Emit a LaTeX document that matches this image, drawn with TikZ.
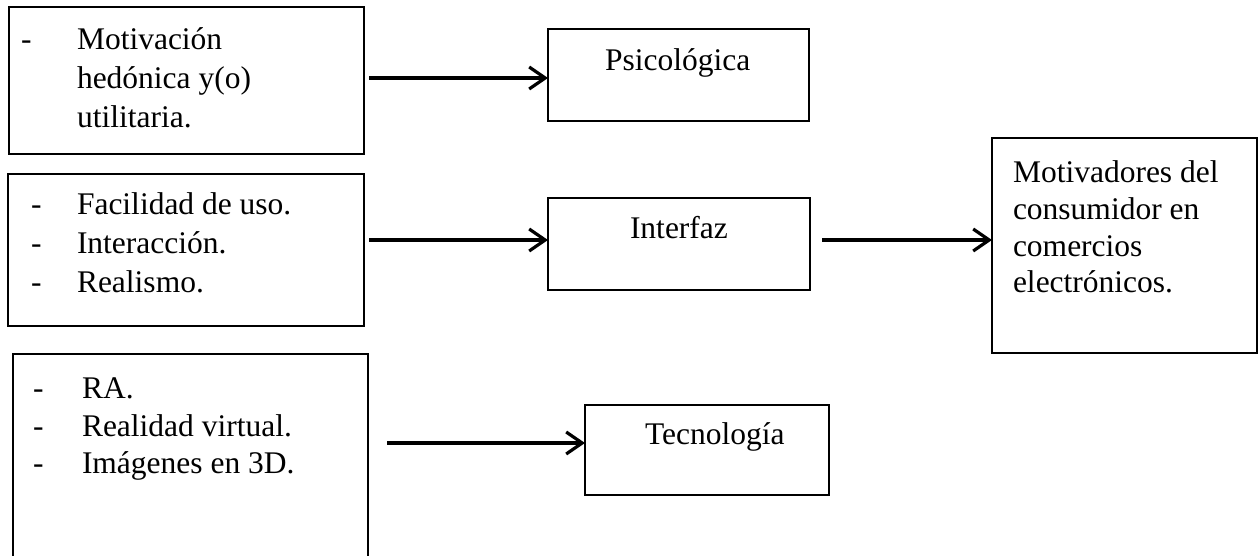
\documentclass[tikz,border=0pt]{standalone}
\usepackage{fontspec}
\setmainfont{Liberation Serif}
\usetikzlibrary{arrows.meta}
\begin{document}
\begin{tikzpicture}[x=1pt,y=-1pt,
  box/.style={draw, line width=2pt, inner sep=0pt, outer sep=0pt},
  txt/.style={anchor=base west, inner sep=0pt, outer sep=0pt, font=\fontsize{31.5}{38}\selectfont},
  arr/.style={line width=3.2pt, -{Straight Barb[length=16pt,width=22pt,line width=3.2pt]}}]
\useasboundingbox (0,0) rectangle (1259,555);
\clip (0,0) rectangle (1259,555);
% boxes
\node[box, minimum width=355pt, minimum height=147pt] (b1) at (186.5,80.5) {};
\node[box, minimum width=356pt, minimum height=152pt] (b2) at (186,250) {};
\node[box, minimum width=355pt, minimum height=211pt] (b3) at (190.5,459.5) {};
\node[box, minimum width=261pt, minimum height=92pt] (psi) at (678.5,75) {};
\node[box, minimum width=262pt, minimum height=92pt] (int) at (679,244) {};
\node[box, minimum width=244pt, minimum height=90pt] (tec) at (707,450) {};
\node[box, minimum width=265pt, minimum height=215pt] (mot) at (1124.5,245.5) {};
% box 1 text
\node[txt] (d11) at (21,49) {-};
\node[txt] (t11) at (77,49) {Motivación};
\node[txt] (t12) at (77,88) {hedónica y(o)};
\node[txt] (t13) at (77,127) {utilitaria.};
% box 2 text
\node[txt] (d21) at (31,214) {-};
\node[txt] (t21) at (77,214) {Facilidad de uso.};
\node[txt] (d22) at (31,253) {-};
\node[txt] (t22) at (77,253) {Interacción.};
\node[txt] (d23) at (31,292) {-};
\node[txt] (t23) at (77,292) {Realismo.};
% box 3 text
\node[txt] (d31) at (33,398) {-};
\node[txt] (t31) at (82,398) {RA.};
\node[txt] (d32) at (33,436) {-};
\node[txt] (t32) at (82,436) {Realidad virtual.};
\node[txt] (d33) at (33,473) {-};
\node[txt] (t33) at (82,473) {Imágenes en 3D.};
% middle texts
\node[txt] (tp) at (605,70) {Psicológica};
\node[txt] (ti) at (630,238) {Interfaz};
\node[txt] (tt) at (645,444) {Tecnología};
% right box text
\node[txt] (m1) at (1013,182) {Motivadores del};
\node[txt] (m2) at (1013,219) {consumidor en};
\node[txt] (m3) at (1013,256) {comercios};
\node[txt] (m4) at (1013,292) {electrónicos.};
% arrows
\coordinate (a1) at (369,78);
\coordinate (a2) at (369,240);
\coordinate (a3) at (822,240);
\coordinate (a4) at (387,443);
\draw[arr] (a1) -- (a1 -| psi.west);
\draw[arr] (a2) -- (a2 -| int.west);
\draw[arr] (a3) -- (a3 -| mot.west);
\draw[arr] (a4) -- (a4 -| tec.west);
\end{tikzpicture}
\end{document}
